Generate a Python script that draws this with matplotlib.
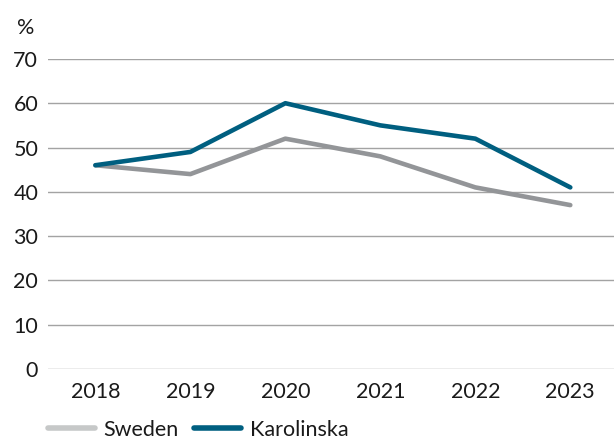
import matplotlib.pyplot as plt
from matplotlib.lines import Line2D

years = ["2018", "2019", "2020", "2021", "2022", "2023"]
sweden = [46, 44, 52, 48, 41, 37]
karolinska = [46, 49, 60, 55, 52, 41]
y_ticks = [0, 10, 20, 30, 40, 50, 60, 70]

sweden_color = "#939598"
sweden_legend_color = "#c6c8c8"
karolinska_color = "#005f80"

plt.rcParams["font.family"] = ["Lato", "DejaVu Sans"]

fig = plt.figure(figsize=(6.14, 4.43), dpi=100)
ax = fig.add_axes([0.078, 0.167, 0.922, 0.70])

x = list(range(len(years)))
ax.plot(x, sweden, color=sweden_color, linewidth=3.3, solid_capstyle="round", zorder=3)
ax.plot(x, karolinska, color=karolinska_color, linewidth=3.3, solid_capstyle="round", zorder=4)

ax.set_xlim(-0.5, 5.46)
ax.set_ylim(0, 70)
ax.set_yticks(y_ticks)
ax.set_xticks(x)
ax.set_xticklabels(years)
for t in y_ticks:
    ax.axhline(t, color="#a3a3a3", linewidth=1.0, zorder=1)

for spine in ax.spines.values():
    spine.set_visible(False)
ax.tick_params(axis="both", length=0, labelsize=15.5, colors="#1a1a1a")
ax.tick_params(axis="y", pad=7)
ax.tick_params(axis="x", pad=9)

fig.text(0.028, 0.937, "%", fontsize=15.5, color="#1a1a1a", ha="left", va="center")

handles = [
    Line2D([], [], color=sweden_legend_color, linewidth=4, solid_capstyle="round"),
    Line2D([], [], color=karolinska_color, linewidth=4, solid_capstyle="round"),
]
fig.legend(handles, ["Sweden", "Karolinska"], loc="center left",
           bbox_to_anchor=(0.06, 0.03), ncol=2, frameon=False,
           fontsize=15.5, handlelength=2.2, handletextpad=0.4, columnspacing=0.7,
           borderpad=0.0, labelcolor="#1a1a1a")

fig.savefig("out.png", dpi=100)
